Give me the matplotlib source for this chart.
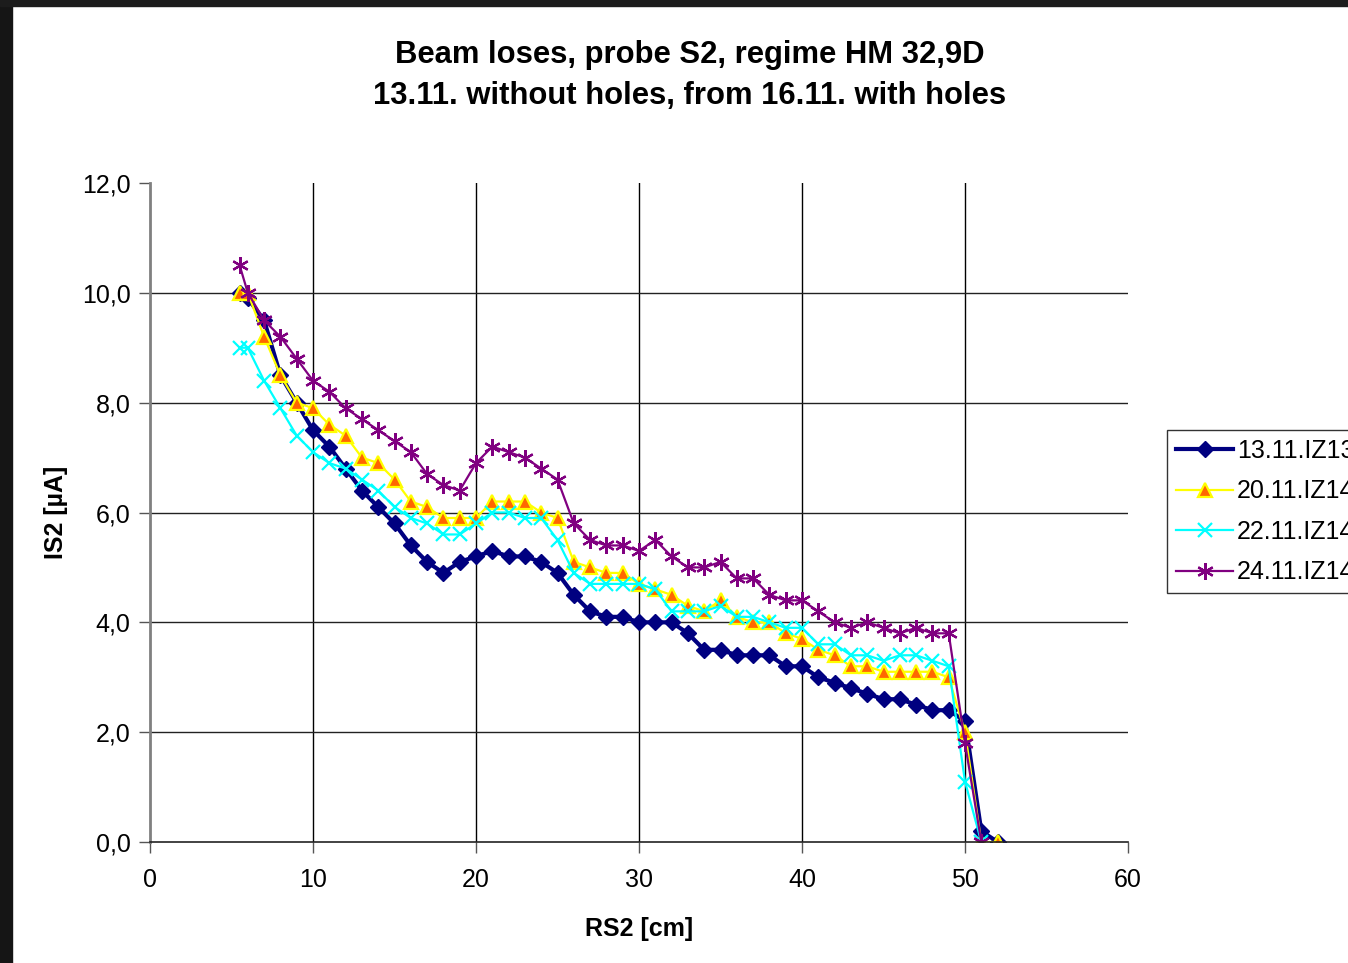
import matplotlib
matplotlib.use('Agg')
import matplotlib.pyplot as plt
from matplotlib.ticker import FuncFormatter
from matplotlib.patches import Rectangle

plt.rcParams['font.family'] = ['Liberation Sans', 'DejaVu Sans']

# positions RS2 [cm]
x_pts = [5.5, 6, 7, 8, 9, 10, 11, 12, 13, 14, 15, 16, 17, 18, 19, 20,
         21, 22, 23, 24, 25, 26, 27, 28, 29, 30, 31, 32, 33, 34, 35,
         36, 37, 38, 39, 40, 41, 42, 43, 44, 45, 46, 47, 48, 49, 50, 51, 52]

s_1311 = [10.0, 9.9, 9.5, 8.5, 8.0, 7.5, 7.2, 6.8, 6.4, 6.1, 5.8, 5.4, 5.1, 4.9, 5.1, 5.2,
          5.3, 5.2, 5.2, 5.1, 4.9, 4.5, 4.2, 4.1, 4.1, 4.0, 4.0, 4.0, 3.8, 3.5, 3.5,
          3.4, 3.4, 3.4, 3.2, 3.2, 3.0, 2.9, 2.8, 2.7, 2.6, 2.6, 2.5, 2.4, 2.4, 2.2, 0.2, 0.0]
s_2011 = [10.0, 10.0, 9.2, 8.5, 8.0, 7.9, 7.6, 7.4, 7.0, 6.9, 6.6, 6.2, 6.1, 5.9, 5.9, 5.9,
          6.2, 6.2, 6.2, 6.0, 5.9, 5.1, 5.0, 4.9, 4.9, 4.7, 4.6, 4.5, 4.3, 4.2, 4.4,
          4.1, 4.0, 4.0, 3.8, 3.7, 3.5, 3.4, 3.2, 3.2, 3.1, 3.1, 3.1, 3.1, 3.0, 2.0, 0.0, 0.0]
s_2211 = [9.0, 9.0, 8.4, 7.9, 7.4, 7.1, 6.9, 6.8, 6.6, 6.4, 6.1, 5.9, 5.8, 5.6, 5.6, 5.8,
          6.0, 6.0, 5.9, 5.9, 5.5, 4.9, 4.7, 4.7, 4.7, 4.7, 4.6, 4.2, 4.2, 4.2, 4.3,
          4.1, 4.1, 4.0, 3.9, 3.9, 3.6, 3.6, 3.4, 3.4, 3.3, 3.4, 3.4, 3.3, 3.2, 1.1, 0.0]
s_2411 = [10.5, 10.0, 9.5, 9.2, 8.8, 8.4, 8.2, 7.9, 7.7, 7.5, 7.3, 7.1, 6.7, 6.5, 6.4, 6.9,
          7.2, 7.1, 7.0, 6.8, 6.6, 5.8, 5.5, 5.4, 5.4, 5.3, 5.5, 5.2, 5.0, 5.0, 5.1,
          4.8, 4.8, 4.5, 4.4, 4.4, 4.2, 4.0, 3.9, 4.0, 3.9, 3.8, 3.9, 3.8, 3.8, 1.8, 0.0]

labels = ['13.11.IZ13', '20.11.IZ14', '22.11.IZ14', '24.11.IZ14']

W, H = 1348, 963
fig = plt.figure(figsize=(W / 100, H / 100), dpi=100)

# dark screenshot frame on left and top
fig.patches.append(Rectangle((0, 0), 12 / W, 1, transform=fig.transFigure,
                             color='#151515', zorder=-1))
fig.patches.append(Rectangle((0, 1 - 6 / H), 1, 6 / H, transform=fig.transFigure,
                             color='#1c1c1c', zorder=-1))

ax = fig.add_axes([150 / W, (H - 842) / H, 978 / W, 659 / H])

ax.plot(x_pts, s_1311, color='#000080', lw=3, marker='D', ms=8,
        mfc='#000080', mec='#000080', label=labels[0])
ax.plot(x_pts, s_2011, color='#FFFF00', lw=1.6, marker='^', ms=10,
        mfc='#FF6600', mec='#FFFF00', mew=1.6, label=labels[1])
ax.plot(x_pts[:len(s_2211)], s_2211, color='#00FFFF', lw=1.6, marker='x', ms=10,
        mew=1.6, label=labels[2])
ax.plot(x_pts[:len(s_2411)], s_2411, color='#800080', lw=1.6, marker=(6, 2, 0), ms=12,
        mew=1.6, label=labels[3])

ax.set_xlim(0, 60)
ax.set_ylim(0, 12)
ax.set_xticks(range(0, 61, 10))
ax.set_yticks(range(0, 13, 2))
ax.yaxis.set_major_formatter(FuncFormatter(lambda v, p: f'{v:.1f}'.replace('.', ',')))

# grid only inside, like Excel
for gx in range(10, 51, 10):
    ax.axvline(gx, color='black', lw=1, zorder=0)
for gy in range(2, 11, 2):
    ax.axhline(gy, color='#222222', lw=1, zorder=0)

for s in ['top', 'right']:
    ax.spines[s].set_visible(False)
ax.spines['left'].set_color('#808080')
ax.spines['left'].set_linewidth(2)
ax.spines['bottom'].set_color('#222222')
ax.spines['bottom'].set_linewidth(1.2)
ax.tick_params(axis='both', labelsize=18, length=8, width=1, color='#555555', pad=6)
ax.tick_params(axis='x', pad=11)

ax.set_xlabel('RS2 [cm]', fontsize=18, fontweight='bold', labelpad=18)
ax.set_ylabel('IS2 [µA]', fontsize=18, fontweight='bold', labelpad=10)

fig.text(690 / W, 1 - 55 / H, 'Beam loses, probe S2, regime HM 32,9D',
         ha='center', va='center', fontsize=22.3, fontweight='bold')
fig.text(690 / W, 1 - 96 / H, '13.11. without holes, from 16.11. with holes',
         ha='center', va='center', fontsize=22.3, fontweight='bold')

leg = ax.legend(loc='upper left', bbox_to_anchor=(1167 / W, 1 - 430 / H),
                bbox_transform=fig.transFigure, fontsize=18, frameon=True,
                fancybox=False, edgecolor='black', borderpad=0.35,
                borderaxespad=0, labelspacing=0.66, handlelength=2.3,
                handletextpad=0.15)
leg.get_frame().set_linewidth(1)

fig.savefig('out.png', dpi=100)
